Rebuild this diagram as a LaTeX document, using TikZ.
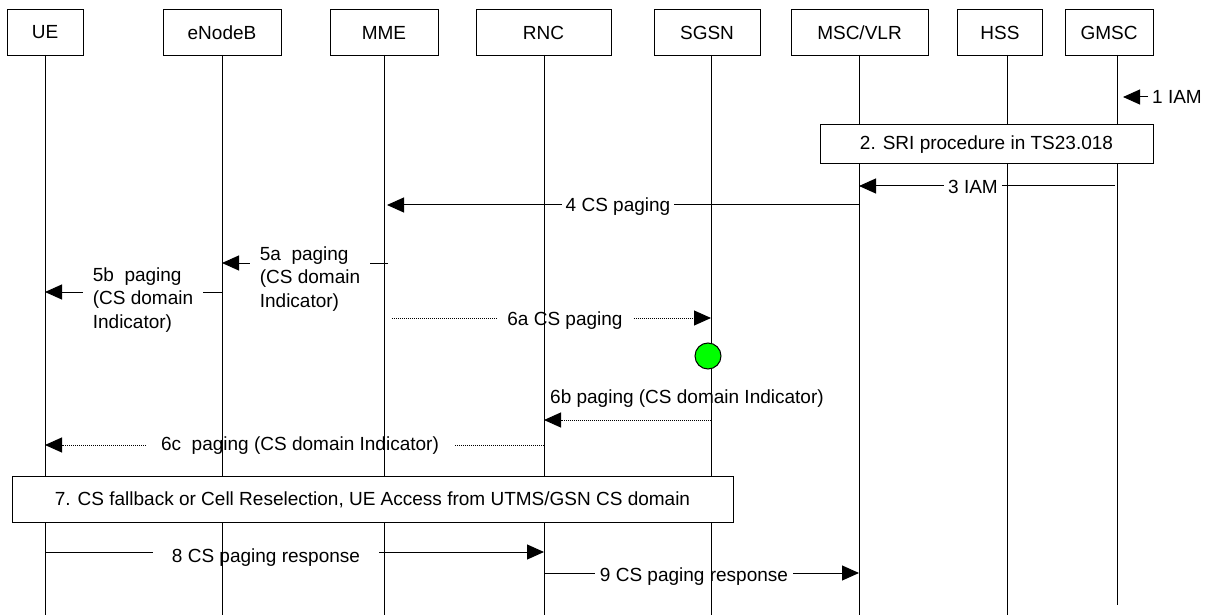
\documentclass[tikz,border=0pt]{standalone}
\usepackage{fontspec}
\setmainfont{Liberation Sans}
\usetikzlibrary{arrows.meta}
\begin{document}
\begin{tikzpicture}[x=1pt,y=-1pt,
  every node/.style={font=\fontsize{19}{23.5}\selectfont, inner sep=0pt},
  hdr/.style={draw, line width=1pt, minimum height=46pt, anchor=north},
  life/.style={line width=0.9pt},
  msg/.style={line width=1pt},
  arr/.style={line width=1pt, -{Triangle[length=17pt,width=15pt]}},
  dotl/.style={line width=1pt, dash pattern=on 1pt off 1pt},
  darr/.style={dotl, -{Triangle[length=17pt,width=15pt]}},
  lbl/.style={inner sep=4pt},
  proc/.style={draw, fill=white, line width=1pt}]
\useasboundingbox (0,0) rectangle (1211,615);

% header boxes
\node[hdr, minimum width=76pt]  (ue)   at (45,9)    {UE};
\node[hdr, minimum width=118pt] (enb)  at (222,9)   {eNodeB};
\node[hdr, minimum width=108pt] (mme)  at (384,9)   {MME};
\node[hdr, minimum width=135pt] (rnc)  at (543.5,9) {RNC};
\node[hdr, minimum width=106pt] (sgsn) at (707,9)   {SGSN};
\node[hdr, minimum width=137pt] (msc)  at (859.5,9) {MSC/VLR};
\node[hdr, minimum width=85pt]  (hss)  at (1000,9)  {HSS};
\node[hdr, minimum width=88pt]  (gmsc) at (1109,9)  {GMSC};

% lifeline tops
\coordinate (lUE)   at (45,55);
\coordinate (lENB)  at (222,55);
\coordinate (lMME)  at (384,55);
\coordinate (lRNC)  at (544,55);
\coordinate (lSGSN) at (711,55);
\coordinate (lMSC)  at (859,55);
\coordinate (lHSS)  at (1007,55);
\coordinate (lGMSC) at (1117,55);
\coordinate (bot) at (0,615);
\coordinate (botg) at (0,605);

\foreach \l in {lUE,lENB,lMME,lRNC,lSGSN,lMSC,lHSS}
  \draw[life] (\l) -- (\l |- bot);
\draw[life] (lGMSC) -- (lGMSC |- botg);

% message levels
\coordinate (y1) at (0,97);
\coordinate (y3) at (0,186);
\coordinate (y4) at (0,205);
\coordinate (y5a) at (0,263);
\coordinate (y5b) at (0,292);
\coordinate (y6a) at (0,318);
\coordinate (y6b) at (0,420);
\coordinate (ty6b) at (0,399);
\coordinate (y6c) at (0,445);
\coordinate (y8) at (0,552);
\coordinate (y9) at (0,573);

% 1 IAM
\node[lbl, anchor=west] (t1) at (1148,97) {1 IAM};
\draw[arr, shorten >=6pt] (t1.west) -- (lGMSC |- y1);

% 2 SRI
\node[proc, minimum width=333pt, minimum height=39pt] (sri) at (986.5,144.5) {2. SRI procedure in TS23.018};

% 3 IAM
\node[lbl, inner sep=4pt] (t3) at (973,187) {3 IAM};
\draw[msg, shorten <=2pt] (lGMSC |- y3) -- (t3.east |- y3);
\draw[arr] (t3.west |- y3) -- (lMSC |- y3);

% 4 CS paging
\node[lbl] (t4) at (618,207) {4 CS paging};
\draw[msg] (lMSC |- y4) -- (t4.east |- y4);
\draw[arr, shorten >=3pt] (t4.west |- y4) -- (lMME |- y4);

% 5a
\node[lbl, align=left, inner sep=10pt] (t5a) at (310,279) {5a~~paging\\(CS domain\\Indicator)};
\draw[msg] ([xshift=4pt]lMME |- y5a) -- (t5a.east |- y5a);
\draw[arr] (t5a.west |- y5a) -- (lENB |- y5a);

% 5b
\node[lbl, align=left, inner sep=10pt] (t5b) at (143,300) {5b~~paging\\(CS domain\\Indicator)};
\draw[msg] (lENB |- y5b) -- (t5b.east |- y5b);
\draw[arr] (t5b.west |- y5b) -- (lUE |- y5b);

% 6a
\node[lbl, inner sep=11pt] (t6a) at (565,321) {6a CS paging};
\draw[dotl] ([xshift=8pt]lMME |- y6a) -- (t6a.west |- y6a);
\draw[darr] (t6a.east |- y6a) -- (lSGSN |- y6a);

% green circle
\node[circle, draw, fill=green, line width=1pt, minimum size=26pt] (dot) at (708,356) {};

% 6b
\node[anchor=west] (t6b) at ([xshift=6pt]lRNC |- ty6b) {6b paging (CS domain Indicator)};
\draw[darr] (lSGSN |- y6b) -- (lRNC |- y6b);

% 6c
\node[lbl, inner sep=15pt] (t6c) at (300,446) {6c~~paging (CS domain Indicator)};
\draw[dotl] (lRNC |- y6c) -- (t6c.east |- y6c);
\draw[darr] (t6c.west |- y6c) -- (lUE |- y6c);

% 7
\node[proc, minimum width=721pt, minimum height=46pt] (p7) at (372.5,499.5) {7. CS fallback or Cell Reselection, UE Access from UTMS/GSN CS domain};

% 8
\node[lbl, inner sep=19pt] (t8) at (266,558) {8 CS paging response};
\draw[msg] (lUE |- y8) -- (t8.west |- y8);
\draw[arr] (t8.east |- y8) -- (lRNC |- y8);

% 9
\node[lbl, inner sep=5pt] (t9) at (694,577) {9 CS paging response};
\draw[msg] (lRNC |- y9) -- (t9.west |- y9);
\draw[arr] (t9.east |- y9) -- (lMSC |- y9);
\end{tikzpicture}
\end{document}
